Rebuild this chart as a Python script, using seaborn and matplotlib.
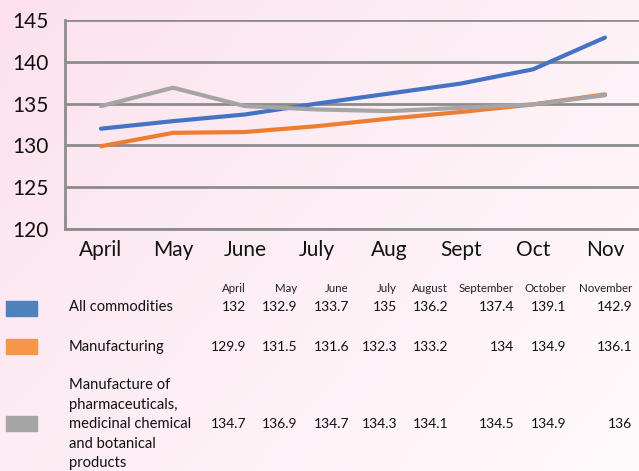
import numpy as np
import pandas as pd
import matplotlib
matplotlib.use("Agg")
import matplotlib.pyplot as plt
import seaborn as sns
from matplotlib.colors import LinearSegmentedColormap

# data
months_short = ["April", "May", "June", "July", "Aug", "Sept", "Oct", "Nov"]
months_long = ["April", "May", "June", "July", "August", "September", "October", "November"]
series_names = ["All commodities", "Manufacturing", "Manufacture of pharmaceuticals"]
series_labels = ["All commodities", "Manufacturing",
                 "Manufacture of\npharmaceuticals,\nmedicinal chemical\nand botanical\nproducts"]
all_comm = [132, 132.9, 133.7, 135, 136.2, 137.4, 139.1, 142.9]
manuf = [129.9, 131.5, 131.6, 132.3, 133.2, 134, 134.9, 136.1]
pharma = [134.7, 136.9, 134.7, 134.3, 134.1, 134.5, 134.9, 136]
yticks = [120, 125, 130, 135, 140, 145]

line_colors = ["#4472C4", "#ED7D31", "#A5A5A5"]
swatch_colors = ["#4F81BD", "#F79646", "#A5A5A5"]

df = pd.DataFrame({
    "month": months_short * 3,
    "value": all_comm + manuf + pharma,
    "series": [series_names[0]] * 8 + [series_names[1]] * 8 + [series_names[2]] * 8,
})

sns.set_style("white")
plt.rcParams["font.family"] = ["Lato", "DejaVu Sans"]

W, H = 639, 471
fig = plt.figure(figsize=(W / 100, H / 100), dpi=100)

# pink gradient background
bg = fig.add_axes([0, 0, 1, 1], zorder=-10)
gx, gy = np.meshgrid(np.linspace(0, 1, 200), np.linspace(0, 1, 200))
grad = np.clip(0.6 * gx + 0.4 * gy, 0, 1)
cmap = LinearSegmentedColormap.from_list("bg", ["#FCE1ED", "#FDEFF5", "#FFFAFC"])
bg.imshow(grad, cmap=cmap, aspect="auto", extent=[0, 1, 0, 1], origin="upper")
bg.axis("off")

ax = fig.add_axes([65 / W, 1 - 229 / H, (641 - 65) / W, (229 - 20) / H])
ax.patch.set_alpha(0)
sns.lineplot(data=df, x="month", y="value", hue="series", palette=line_colors,
             linewidth=3, ax=ax, legend=False, sort=False)
ax.set_xlim(-0.5, 7.5)
ax.set_ylim(120, 145)
ax.set_yticks(yticks)
ax.set_xticks(np.arange(-0.5, 8, 1), minor=True)
ax.set_xticks(range(8))
ax.set_xticklabels(months_short)
ax.tick_params(axis="x", which="major", length=0, labelsize=15, pad=8, labelcolor="#111111")
ax.tick_params(axis="x", which="minor", length=6, width=2, color="#8C8C8C")
ax.tick_params(axis="y", length=6, width=2, color="#8C8C8C", labelsize=15, pad=6,
               labelcolor="#111111")
ax.grid(axis="y", color="#8C8C8C", linewidth=2)
ax.set_axisbelow(True)
for s in ["top", "right"]:
    ax.spines[s].set_visible(False)
for s in ["left", "bottom"]:
    ax.spines[s].set_color("#8C8C8C")
    ax.spines[s].set_linewidth(2)
ax.set_xlabel("")
ax.set_ylabel("")

# data table below the chart
col_right = [246, 297, 349, 397, 448, 514, 566, 632]
row_y = [307, 347, 424]
swatch_y = [301, 339, 416]
values = [all_comm, manuf, pharma]

def px(x, y):
    return x / W, 1 - y / H

for x, m in zip(col_right, months_long):
    fig.text(*px(x, 289), m, ha="right", va="center", fontsize=8.3, color="#222222")

for i in range(3):
    fig.patches.append(plt.Rectangle(px(6, swatch_y[i] + 15), 31 / W, 15 / H,
                                     transform=fig.transFigure, color=swatch_colors[i]))
    fig.text(*px(69, row_y[i]), series_labels[i], ha="left", va="center",
             fontsize=10.6, color="#111111", linespacing=1.5)
    for x, v in zip(col_right, values[i]):
        fig.text(*px(x, row_y[i]), f"{v:g}", ha="right", va="center",
                 fontsize=10, color="#111111")

fig.savefig("out.png", dpi=100)
